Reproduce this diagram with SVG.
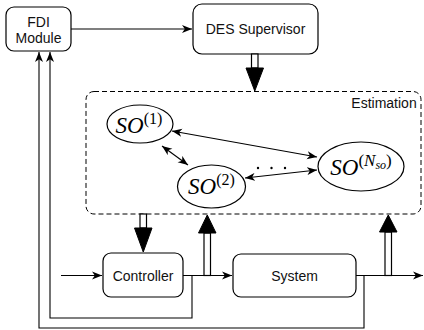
<svg xmlns="http://www.w3.org/2000/svg" width="424" height="330" viewBox="0 0 424 330">
<style>
.box{fill:#fff;stroke:#000;stroke-width:1.2}
.lbl{font-family:"Liberation Sans",Arial,sans-serif;font-size:14px;fill:#111;text-anchor:middle}
.math{font-family:"Liberation Serif","Times New Roman",serif;font-style:italic;fill:#000;text-anchor:middle}
.ln{fill:none;stroke:#000;stroke-width:1.1}
.shaft{fill:#fff;stroke:#000;stroke-width:1.2}
.head{fill:#000;stroke:#000;stroke-width:1}
</style>
<defs>
<marker id="ah" markerUnits="userSpaceOnUse" markerWidth="11" markerHeight="9" refX="10" refY="4.5" orient="auto-start-reverse" viewBox="0 0 11 9">
<path d="M0,0.5 L10,4.5 L0,8.5 L2.8,4.5 Z" fill="#000"/>
</marker>
</defs>

<g id="estimation">
<rect x="86" y="91.5" width="335" height="122.5" rx="8" fill="none" stroke="#000" stroke-width="1" stroke-dasharray="5 3"/>
<text class="lbl" x="384" y="108">Estimation</text>
</g>

<g id="fdi">
<rect class="box" x="6" y="7" width="65" height="44" rx="8"/>
<text class="lbl" x="38.5" y="27">FDI</text>
<text class="lbl" x="38.5" y="42.5">Module</text>
</g>

<g id="des">
<rect class="box" x="193" y="4" width="125" height="50" rx="9"/>
<text class="lbl" x="255.5" y="34">DES Supervisor</text>
</g>

<g id="so1">
<ellipse class="box" cx="140" cy="124" rx="33" ry="19"/>
<text class="math" x="139" y="133" font-size="23">SO<tspan font-style="normal" font-size="16" dy="-9">(1)</tspan></text>
</g>

<g id="so2">
<ellipse class="box" cx="211.5" cy="186.5" rx="34" ry="21.5"/>
<text class="math" x="211.5" y="194" font-size="23">SO<tspan font-style="normal" font-size="16" dy="-9">(2)</tspan></text>
</g>

<g id="soN">
<ellipse class="box" cx="361" cy="166.5" rx="43" ry="24.5"/>
<text class="math" x="361" y="175" font-size="23">SO<tspan font-style="normal" font-size="17" dy="-9">(</tspan><tspan font-size="17">N</tspan><tspan font-size="12" dy="3">so</tspan><tspan font-style="normal" font-size="17" dy="-3">)</tspan></text>
</g>

<g id="dots">
<circle cx="258" cy="168" r="1.2" fill="#000"/>
<circle cx="271.5" cy="168" r="1.2" fill="#000"/>
<circle cx="285" cy="168" r="1.2" fill="#000"/>
</g>

<g id="controller">
<rect class="box" x="103" y="253" width="80" height="44" rx="8"/>
<text class="lbl" x="143" y="280.5">Controller</text>
</g>

<g id="system">
<rect class="box" x="233" y="254" width="123" height="43" rx="8"/>
<text class="lbl" x="294.5" y="280.5">System</text>
</g>

<g id="connectors">
<line class="ln" x1="71" y1="29" x2="192" y2="29" marker-end="url(#ah)"/>
<line class="ln" x1="172" y1="131" x2="317" y2="157" marker-start="url(#ah)" marker-end="url(#ah)"/>
<line class="ln" x1="162" y1="146" x2="188" y2="165" marker-start="url(#ah)" marker-end="url(#ah)"/>
<line class="ln" x1="245" y1="178" x2="317" y2="170" marker-start="url(#ah)" marker-end="url(#ah)"/>
<line class="ln" x1="61" y1="275.5" x2="102" y2="275.5" marker-end="url(#ah)"/>
<line class="ln" x1="183" y1="275.5" x2="232" y2="275.5" marker-end="url(#ah)"/>
<line class="ln" x1="356" y1="275.5" x2="423" y2="275.5" marker-end="url(#ah)"/>
<polyline class="ln" points="192,275.5 192,318 50,318 50,52" marker-end="url(#ah)"/>
<polyline class="ln" points="364,275.5 364,328 39,328 39,52" marker-end="url(#ah)"/>
<rect class="shaft" x="251.5" y="54" width="6.5" height="14"/>
<path class="head" d="M246,68 L263.5,68 L254.75,91 Z"/>
<rect class="shaft" x="140" y="214" width="6.5" height="14"/>
<path class="head" d="M134.5,228 L152,228 L143.25,252 Z"/>
<rect class="shaft" x="204" y="233" width="6.5" height="42.5"/>
<path class="head" d="M198.5,233 L216,233 L207.25,215 Z"/>
<rect class="shaft" x="385" y="232" width="6.5" height="43.5"/>
<path class="head" d="M379.5,232 L397,232 L388.25,215 Z"/>
</g>
</svg>
